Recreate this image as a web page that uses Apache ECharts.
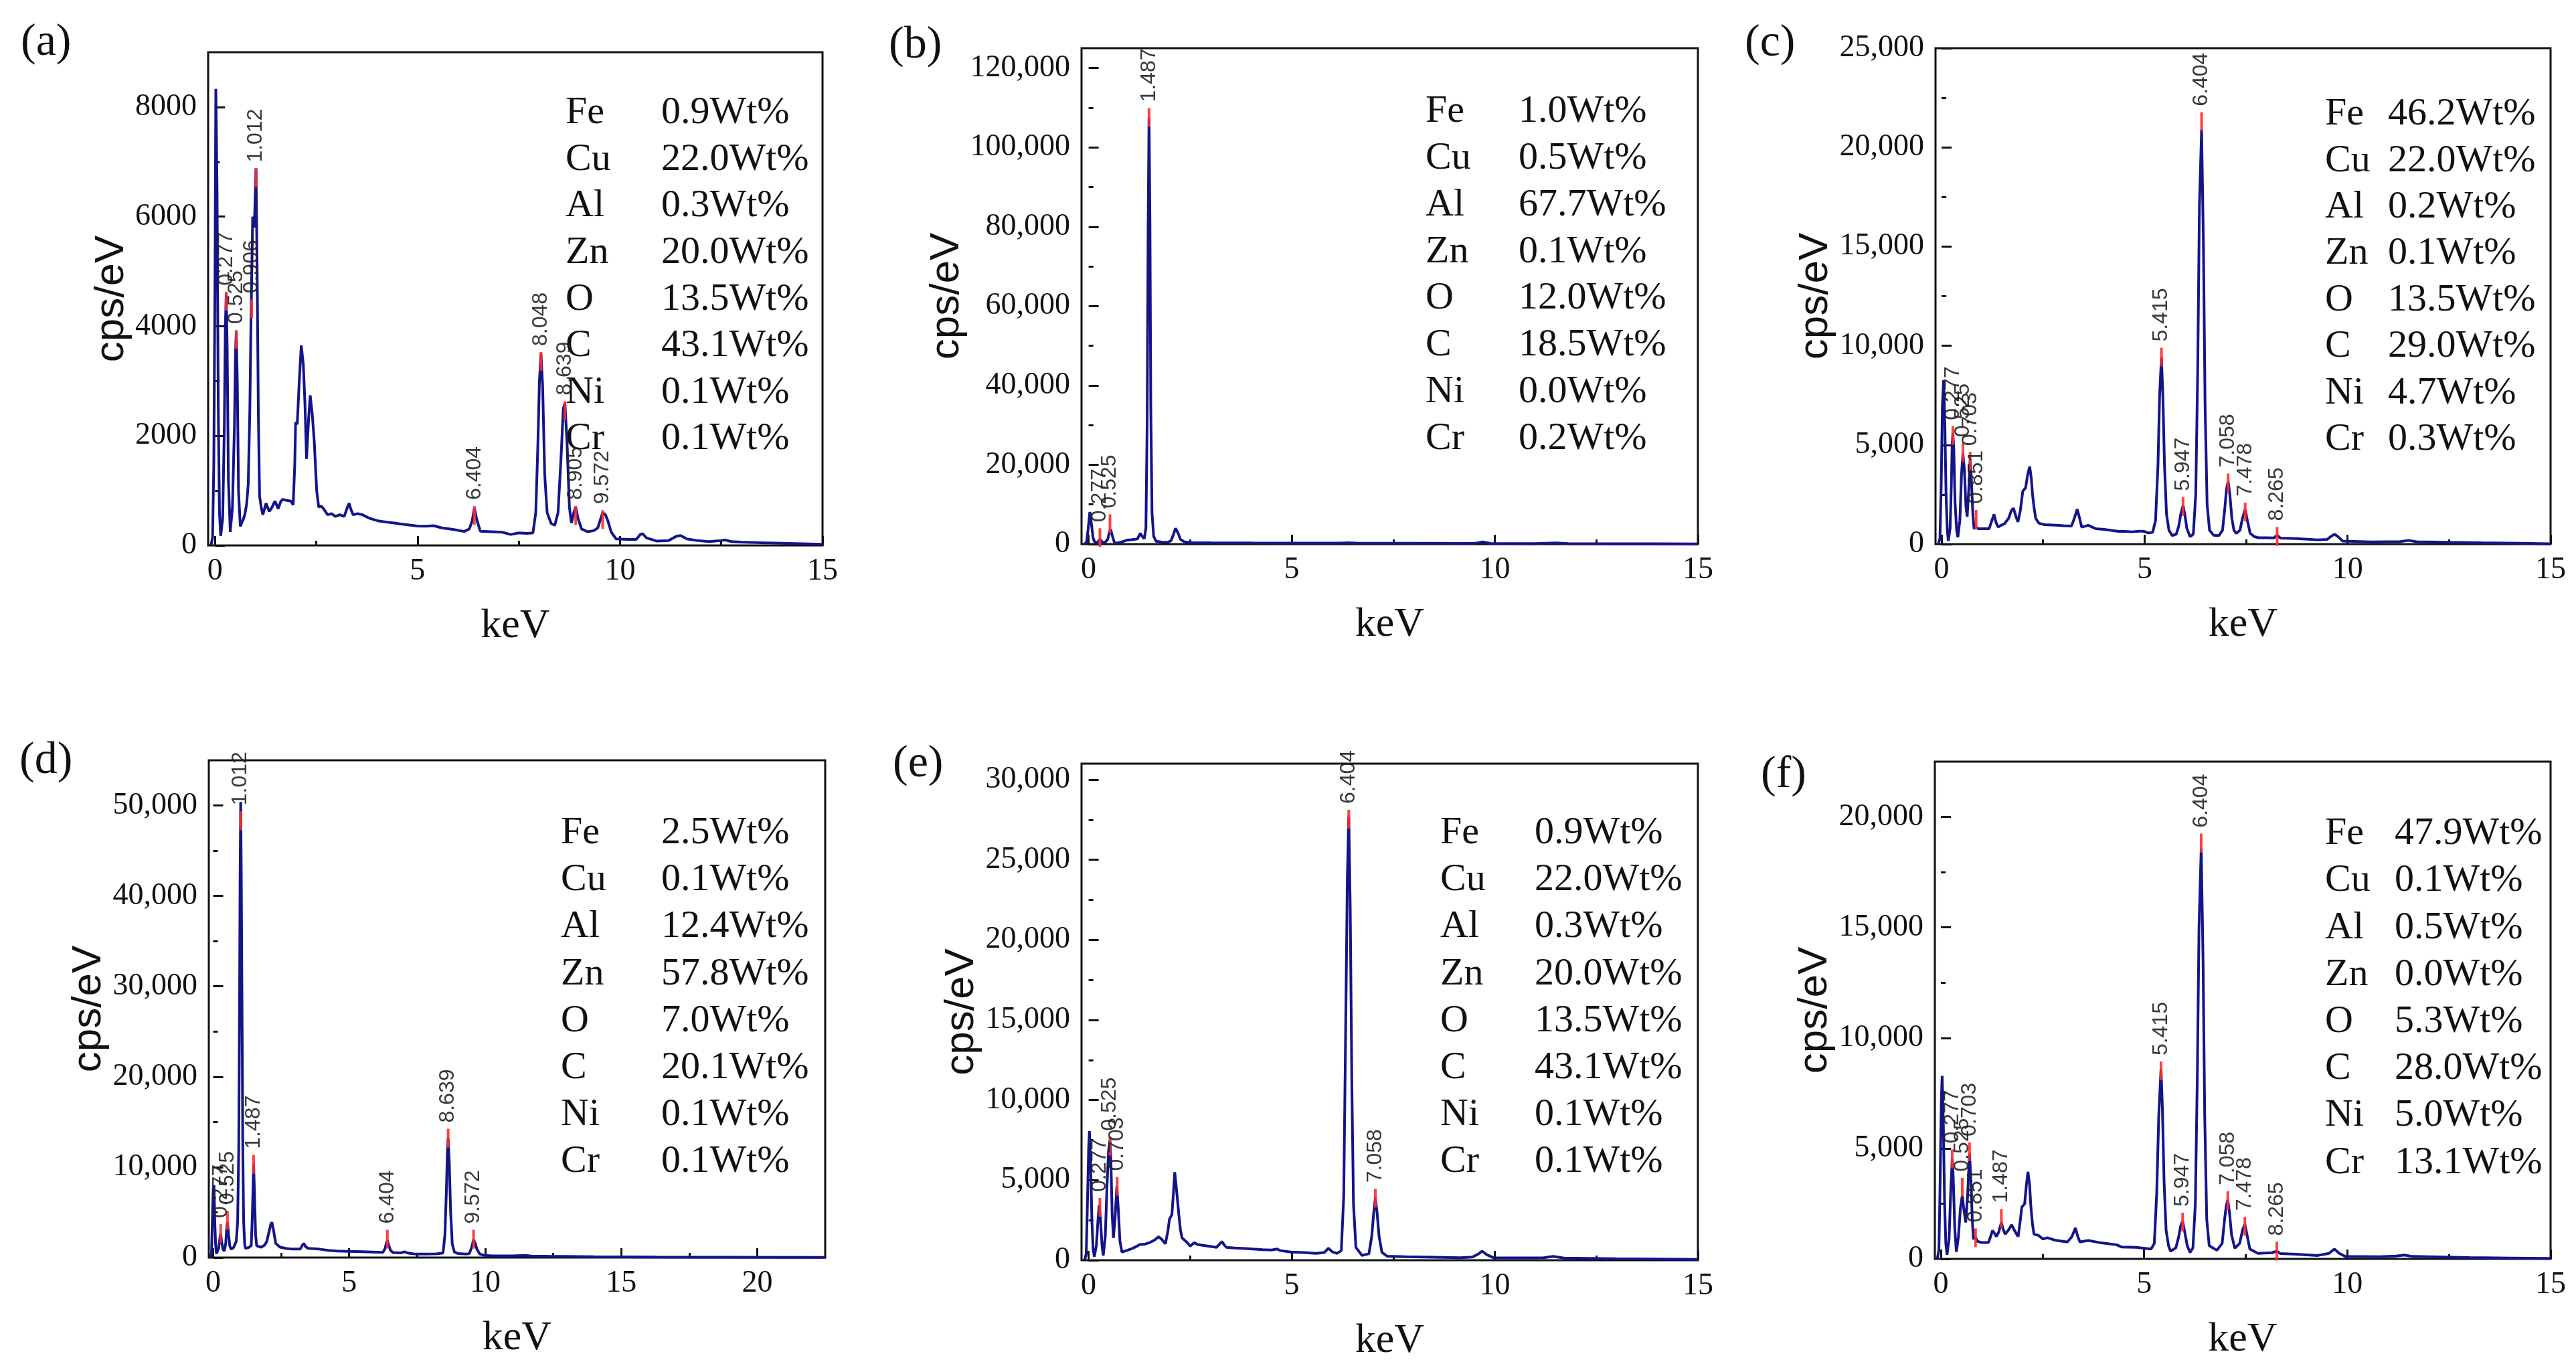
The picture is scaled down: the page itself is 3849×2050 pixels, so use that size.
<!DOCTYPE html>
<html><head><meta charset="utf-8">
<script src="https://cdn.jsdelivr.net/npm/echarts@6/dist/echarts.min.js"></script>
<style>html,body{margin:0;padding:0;background:#fff}#c{width:3849px;height:2050px}</style>
</head><body><div id="c"></div>
<script>
// ---------------- DATA ----------------
const panelLabels = ['(a)', '(b)', '(c)', '(d)', '(e)', '(f)'];
const elements = ['Fe', 'Cu', 'Al', 'Zn', 'O', 'C', 'Ni', 'Cr'];
const wtA = ['0.9', '22.0', '0.3', '20.0', '13.5', '43.1', '0.1', '0.1'];
const wtB = ['1.0', '0.5', '67.7', '0.1', '12.0', '18.5', '0.0', '0.2'];
const wtC = ['46.2', '22.0', '0.2', '0.1', '13.5', '29.0', '4.7', '0.3'];
const wtD = ['2.5', '0.1', '12.4', '57.8', '7.0', '20.1', '0.1', '0.1'];
const wtE = ['0.9', '22.0', '0.3', '20.0', '13.5', '43.1', '0.1', '0.1'];
const wtF = ['47.9', '0.1', '0.5', '0.0', '5.3', '28.0', '5.0', '13.1'];

const xTicks15 = [0, 5, 10, 15];
const xMinor15 = [2.5, 7.5, 12.5];
const xTicks22 = [0, 5, 10, 15, 20];
const xMinor22 = [2.5, 7.5, 12.5, 17.5];
const yTicksA = [0, 2000, 4000, 6000, 8000];
const yMinorA = [1000, 3000, 5000, 7000];
const yTicksB = [0, 20000, 40000, 60000, 80000, 100000, 120000];
const yMinorB = [10000, 30000, 50000, 70000, 90000, 110000];
const yTicksC = [0, 5000, 10000, 15000, 20000, 25000];
const yMinorC = [2500, 7500, 12500, 17500, 22500];
const yTicksD = [0, 10000, 20000, 30000, 40000, 50000];
const yMinorD = [5000, 15000, 25000, 35000, 45000];
const yTicksE = [0, 5000, 10000, 15000, 20000, 25000, 30000];
const yMinorE = [2500, 7500, 12500, 17500, 22500, 27500];
const yTicksF = [0, 5000, 10000, 15000, 20000];
const yMinorF = [2500, 7500, 12500, 17500];

// spectra [keV, cps/eV]
const specA = [[-0.10,0],[-0.06,150],[-0.03,1500],[0.0,5000],[0.02,8330],[0.05,6500],[0.08,2500],[0.11,600],[0.14,175],[0.19,500],[0.23,2200],[0.255,4000],[0.277,4600],[0.30,3600],[0.33,1200],[0.376,245],[0.43,700],[0.48,2200],[0.505,3500],[0.525,3900],[0.55,3000],[0.58,1000],[0.624,350],[0.70,480],[0.735,560],[0.78,750],[0.82,1120],[0.86,2500],[0.89,4200],[0.93,6000],[0.97,5800],[1.012,6880],[1.04,5000],[1.07,2400],[1.10,900],[1.14,700],[1.18,560],[1.26,770],[1.34,620],[1.41,700],[1.48,810],[1.56,670],[1.62,800],[1.67,840],[1.78,820],[1.87,810],[1.93,740],[1.97,1500],[1.99,2250],[2.03,2210],[2.08,3000],[2.13,3650],[2.18,3300],[2.22,2600],[2.26,1580],[2.31,2300],[2.35,2740],[2.40,2400],[2.45,1900],[2.51,1000],[2.56,700],[2.62,720],[2.67,680],[2.78,560],[2.88,580],[2.97,530],[3.08,560],[3.19,530],[3.26,680],[3.31,770],[3.36,650],[3.41,560],[3.52,580],[3.64,560],[3.8,500],[4.02,450],[4.3,420],[4.6,390],[5.0,354],[5.2,350],[5.4,360],[5.6,320],[5.9,290],[6.15,255],[6.28,300],[6.35,450],[6.404,680],[6.46,480],[6.55,260],[6.83,250],[7.1,240],[7.3,200],[7.5,230],[7.7,220],[7.85,230],[7.92,600],[7.97,1800],[8.01,3000],[8.048,3500],[8.09,2900],[8.14,1300],[8.2,600],[8.3,400],[8.39,370],[8.47,600],[8.55,1700],[8.60,2500],[8.639,2600],[8.69,1900],[8.75,700],[8.8,410],[8.86,600],[8.905,700],[8.96,500],[9.05,300],[9.2,250],[9.35,270],[9.45,320],[9.52,480],[9.572,600],[9.64,560],[9.7,450],[9.78,250],[9.9,120],[10.2,110],[10.4,110],[10.5,200],[10.56,214],[10.65,140],[10.9,80],[11.2,90],[11.4,170],[11.5,180],[11.65,120],[11.9,90],[12.2,70],[12.5,90],[12.6,100],[12.75,70],[13.0,60],[13.5,50],[14.0,40],[14.5,30],[15.0,20]];
const specB = [[-0.10,0],[-0.05,500],[-0.01,4000],[0.03,8100],[0.07,5000],[0.11,1500],[0.16,300],[0.22,500],[0.28,1200],[0.34,500],[0.40,400],[0.47,1200],[0.51,3000],[0.54,3800],[0.58,2200],[0.63,500],[0.67,200],[0.8,500],[0.94,1000],[1.05,1100],[1.2,1300],[1.27,2700],[1.33,1800],[1.37,1400],[1.41,4000],[1.44,30000],[1.465,80000],[1.487,107500],[1.51,80000],[1.53,35000],[1.56,8000],[1.6,2000],[1.66,700],[1.8,500],[1.95,450],[2.03,900],[2.08,2200],[2.14,4000],[2.2,2800],[2.26,1200],[2.35,600],[2.5,400],[3.0,350],[4.0,300],[5.0,270],[6.2,250],[6.4,350],[6.6,240],[8.0,200],[9.5,170],[9.7,550],[9.9,160],[11.0,130],[11.5,300],[11.8,120],[13.0,90],[14.0,70],[15.0,50]];
const specC = [[-0.08,0],[-0.04,300],[-0.01,3000],[0.02,7000],[0.05,8275],[0.08,6000],[0.11,2500],[0.14,700],[0.165,170],[0.21,800],[0.24,3000],[0.26,5000],[0.277,5600],[0.30,4800],[0.33,2200],[0.37,700],[0.40,345],[0.45,1200],[0.49,3500],[0.525,4570],[0.56,3800],[0.60,1900],[0.63,1380],[0.67,2800],[0.703,4220],[0.73,3400],[0.77,1500],[0.80,775],[0.851,860],[0.90,780],[1.0,775],[1.17,775],[1.24,1200],[1.29,1500],[1.34,1100],[1.39,860],[1.47,950],[1.55,1030],[1.65,1300],[1.72,1700],[1.77,1810],[1.83,1400],[1.88,1120],[1.94,1700],[2.0,2670],[2.07,2845],[2.12,3500],[2.17,3910],[2.21,3300],[2.24,2500],[2.28,1800],[2.32,1290],[2.4,1050],[2.54,980],[2.82,950],[3.0,930],[3.2,915],[3.27,1300],[3.34,1760],[3.4,1300],[3.45,860],[3.53,900],[3.61,950],[3.8,775],[4.0,740],[4.36,640],[4.44,650],[4.7,620],[4.85,650],[4.97,650],[5.1,560],[5.2,600],[5.27,1200],[5.33,4000],[5.37,7500],[5.415,9400],[5.45,7500],[5.49,4000],[5.54,1500],[5.6,700],[5.68,430],[5.78,500],[5.84,900],[5.89,1500],[5.947,1950],[5.99,1500],[6.04,800],[6.12,370],[6.2,500],[6.26,2500],[6.31,9000],[6.35,17000],[6.404,20900],[6.45,15000],[6.49,7000],[6.54,2000],[6.6,700],[6.7,450],[6.83,430],[6.92,700],[6.98,1900],[7.02,2800],[7.058,3150],[7.1,2500],[7.15,1300],[7.2,700],[7.26,540],[7.35,700],[7.41,1300],[7.478,1750],[7.53,1200],[7.6,550],[7.7,380],[7.8,320],[8.0,320],[8.18,310],[8.265,440],[8.35,300],[8.74,280],[9.27,215],[9.5,240],[9.6,400],[9.68,500],[9.78,350],[9.88,150],[10.6,110],[11.3,130],[11.5,190],[11.7,120],[12.5,90],[13.3,65],[14.2,40],[15.0,20]];
const specD = [[-0.10,0],[-0.06,500],[-0.03,4000],[0.0,7500],[0.03,8000],[0.06,4000],[0.09,1500],[0.12,425],[0.2,1000],[0.25,2200],[0.277,2630],[0.31,1800],[0.36,900],[0.41,720],[0.46,1500],[0.5,3300],[0.525,3900],[0.56,2800],[0.61,1300],[0.66,930],[0.75,1100],[0.85,1800],[0.9,4000],[0.94,12000],[0.97,28000],[0.99,42000],[1.012,50400],[1.03,44000],[1.06,28000],[1.09,12000],[1.12,4000],[1.16,1400],[1.19,1020],[1.3,1100],[1.4,1300],[1.44,4500],[1.487,10300],[1.52,7000],[1.56,2500],[1.6,1300],[1.7,1200],[1.77,1150],[1.9,1400],[1.97,1780],[2.05,2800],[2.12,3700],[2.16,3900],[2.22,3000],[2.3,1570],[2.46,1150],[2.7,1000],[2.91,935],[3.2,950],[3.27,1300],[3.33,1570],[3.4,1200],[3.49,1020],[3.9,935],[4.23,800],[4.56,720],[5.0,680],[5.5,640],[6.0,600],[6.24,566],[6.32,1000],[6.36,1500],[6.404,1900],[6.45,1400],[6.52,800],[6.6,560],[6.9,520],[7.04,640],[7.15,500],[7.44,380],[7.8,380],[8.2,400],[8.45,500],[8.52,2500],[8.57,7000],[8.61,11500],[8.639,13200],[8.68,10500],[8.73,5000],[8.79,1500],[8.87,600],[9.0,450],[9.3,380],[9.42,450],[9.5,1100],[9.572,1980],[9.63,1600],[9.7,900],[9.8,400],[9.95,250],[10.26,190],[11.0,180],[11.3,220],[11.47,240],[11.7,170],[12.3,140],[14.0,90],[16.3,50],[19.0,30],[22.5,20]];
const specE = [[-0.10,0],[-0.06,400],[-0.03,3500],[0.0,7000],[0.02,8060],[0.05,6000],[0.08,2500],[0.11,700],[0.14,220],[0.19,900],[0.23,2500],[0.26,3445],[0.29,2600],[0.33,900],[0.36,293],[0.41,1500],[0.45,4500],[0.49,6800],[0.525,7500],[0.55,6000],[0.58,2800],[0.61,1390],[0.65,2600],[0.695,4620],[0.73,3200],[0.77,1200],[0.82,510],[0.95,620],[1.07,730],[1.17,850],[1.26,980],[1.38,1000],[1.5,1100],[1.62,1250],[1.72,1466],[1.8,1300],[1.89,1026],[1.95,1800],[1.99,2565],[2.05,2860],[2.09,4300],[2.12,5500],[2.16,4500],[2.22,2860],[2.26,1900],[2.3,1390],[2.43,1100],[2.5,880],[2.6,1100],[2.68,980],[2.76,950],[2.95,880],[3.15,806],[3.22,1000],[3.28,1170],[3.34,950],[3.39,806],[3.6,760],[3.86,730],[4.29,660],[4.5,640],[4.64,700],[4.72,600],[4.98,510],[5.3,480],[5.59,430],[5.8,480],[5.9,750],[6.0,520],[6.12,430],[6.22,600],[6.28,4000],[6.33,15000],[6.37,24000],[6.404,27700],[6.44,22000],[6.48,11000],[6.52,3500],[6.58,800],[6.73,300],[6.9,400],[6.97,1500],[7.02,3000],[7.058,3900],[7.1,3000],[7.15,1500],[7.22,500],[7.35,250],[7.8,215],[8.5,190],[9.15,160],[9.45,200],[9.6,400],[9.69,565],[9.8,350],[9.96,160],[10.5,150],[11.2,160],[11.44,240],[11.7,140],[13.0,90],[14.0,70],[15.0,50]];
const specF = [[-0.09,0],[-0.05,400],[-0.02,3500],[0.01,7200],[0.03,8280],[0.06,6000],[0.09,2500],[0.12,700],[0.15,190],[0.2,900],[0.24,3000],[0.277,4520],[0.3,3800],[0.34,1400],[0.38,320],[0.43,1000],[0.48,2300],[0.525,2870],[0.56,2300],[0.61,1650],[0.66,3000],[0.703,4790],[0.74,3500],[0.77,1800],[0.8,900],[0.851,960],[0.9,800],[0.98,745],[1.17,745],[1.22,1000],[1.27,1280],[1.32,1150],[1.36,1010],[1.42,1200],[1.487,1650],[1.53,1350],[1.58,1117],[1.66,1300],[1.74,1540],[1.82,1250],[1.9,1010],[1.95,1700],[1.99,2340],[2.06,2500],[2.1,3300],[2.14,3940],[2.18,3400],[2.21,2450],[2.25,1600],[2.29,1117],[2.4,1064],[2.51,900],[2.62,960],[2.8,850],[3.11,766],[3.22,1000],[3.31,1400],[3.37,1000],[3.42,766],[3.52,800],[3.63,830],[3.88,745],[4.32,640],[4.44,540],[4.8,520],[5.17,445],[5.25,700],[5.31,3000],[5.36,6500],[5.415,8580],[5.45,6800],[5.49,3500],[5.54,1300],[5.6,600],[5.65,350],[5.78,500],[5.85,1000],[5.9,1500],[5.947,1700],[6.0,1200],[6.06,600],[6.13,290],[6.2,500],[6.26,2500],[6.31,8500],[6.35,15000],[6.404,18570],[6.45,13500],[6.49,6500],[6.54,1800],[6.6,600],[6.79,390],[6.92,700],[6.98,1800],[7.02,2400],[7.058,2670],[7.1,2100],[7.15,1100],[7.23,485],[7.35,700],[7.42,1300],[7.478,1570],[7.53,1100],[7.6,450],[7.8,250],[8.15,280],[8.265,350],[8.35,240],[8.74,215],[9.27,155],[9.55,250],[9.68,445],[9.8,250],[9.95,115],[10.8,100],[11.2,130],[11.4,175],[11.6,110],[13.0,60],[14.0,40],[15.0,20]];

// identified peaks: energies (keV) and height of the red marker top (cps/eV)
const peaksA = [0.277, 0.525, 0.906, 1.012, 6.404, 8.048, 8.639, 8.905, 9.572];
const markA  = [4630, 3930, 4490, 6880, 720, 3530, 2630, 720, 645];
const peaksB = [0.277, 0.525, 1.487];
const markB  = [4000, 7500, 109900];
const peaksC = [0.277, 0.525, 0.703, 0.851, 5.415, 5.947, 6.404, 7.058, 7.478, 8.265];
const markC  = [5950, 5090, 4650, 1720, 9900, 2370, 21770, 3560, 2090, 860];
const peaksD = [0.277, 0.525, 1.012, 1.487, 6.404, 8.639, 9.572];
const markD  = [3700, 5180, 49360, 11340, 3070, 14245, 3070];
const peaksE = [0.277, 0.525, 0.703, 6.404, 7.058];
const markE  = [3885, 7700, 5200, 28120, 4460];
const peaksF = [0.277, 0.525, 0.703, 0.851, 1.487, 5.415, 5.947, 6.404, 7.058, 7.478, 8.265];
const markF  = [4950, 3670, 5270, 1380, 2255, 8930, 2090, 19240, 3060, 1900, 775];

// ---------------- LAYOUT ----------------
const panels = [
  {grid:[311,78,918,737],  xr:[-0.17,15],  yr:[0,9000],   xt:xTicks15, xm:xMinor15, yt:yTicksA, ym:yMinorA, spec:specA, pk:peaksA, mk:markA, wt:wtA, comma:false, ngap:104, lab:[31,64],    leg:[845,988,169,69.6]},
  {grid:[1616,72,921,741], xr:[-0.175,15], yr:[0,125000], xt:xTicks15, xm:xMinor15, yt:yTicksB, ym:yMinorB, spec:specB, pk:peaksB, mk:markB, wt:wtB, comma:true,  ngap:168, lab:[1328,68],  leg:[2130,2269,167,69.8]},
  {grid:[2892,72,919,741], xr:[-0.15,15],  yr:[0,25000],  xt:xTicks15, xm:xMinor15, yt:yTicksC, ym:yMinorC, spec:specC, pk:peaksC, mk:markC, wt:wtC, comma:true,  ngap:148, lab:[2607,65],  leg:[3474,3568,171,69.4]},
  {grid:[312,1136,921,743],xr:[-0.16,22.5],yr:[0,55000],  xt:xTicks22, xm:xMinor22, yt:yTicksD, ym:yMinorD, spec:specD, pk:peaksD, mk:markD, wt:wtD, comma:true,  ngap:148, lab:[29,1137],  leg:[838,988,1245,70.1]},
  {grid:[1616,1141,921,742],xr:[-0.175,15],yr:[0,31000],  xt:xTicks15, xm:xMinor15, yt:yTicksE, ym:yMinorE, spec:specE, pk:peaksE, mk:markE, wt:wtE, comma:true,  ngap:148, lab:[1334,1142],leg:[2152,2293,1245,70.1]},
  {grid:[2891,1138,920,743],xr:[-0.15,15], yr:[0,22500],  xt:xTicks15, xm:xMinor15, yt:yTicksF, ym:yMinorF, spec:specF, pk:peaksF, mk:markF, wt:wtF, comma:true,  ngap:148, lab:[2631,1158],leg:[3474,3578,1246,70.2]}
];

const SERIF = 'Liberation Serif';
const SANS = 'Liberation Sans';
const fmtComma = v => String(v).replace(/\B(?=(\d{3})+(?!\d))/g, ',');

const grids = [], xAxes = [], yAxes = [], series = [], graphics = [];
panels.forEach((p, i) => {
  grids.push({left:p.grid[0], top:p.grid[1], width:p.grid[2], height:p.grid[3], show:true, borderColor:'#111', borderWidth:3, backgroundColor:'transparent'});
  xAxes.push({gridIndex:i, type:'value', position:'bottom', min:p.xr[0], max:p.xr[1],
    axisLine:{show:false}, splitLine:{show:false},
    axisTick:{show:true, inside:true, length:14, lineStyle:{color:'#111', width:3}, customValues:p.xt},
    axisLabel:{show:true, customValues:p.xt, fontSize:46, fontFamily:SERIF, color:'#111', margin:16},
    name:'keV', nameLocation:'middle', nameGap:90, nameTextStyle:{fontSize:62, fontFamily:SERIF, color:'#111'}});
  xAxes.push({gridIndex:i, type:'value', position:'bottom', min:p.xr[0], max:p.xr[1],
    axisLine:{show:false}, splitLine:{show:false},
    axisTick:{show:true, inside:true, length:7, lineStyle:{color:'#111', width:3}, customValues:p.xm},
    axisLabel:{show:false}});
  yAxes.push({gridIndex:i, type:'value', position:'left', min:p.yr[0], max:p.yr[1],
    axisLine:{show:false}, splitLine:{show:false},
    axisTick:{show:true, inside:true, length:15, lineStyle:{color:'#111', width:3}, customValues:p.yt},
    axisLabel:{show:true, customValues:p.yt, fontSize:46, fontFamily:SERIF, color:'#111', margin:17,
      formatter: p.comma ? (v => fmtComma(v)) : (v => String(v))},
    name:'cps/eV', nameLocation:'middle', nameRotate:90, nameGap:p.ngap, nameTextStyle:{fontSize:62, fontFamily:SANS, color:'#111'}});
  yAxes.push({gridIndex:i, type:'value', position:'left', min:p.yr[0], max:p.yr[1],
    axisLine:{show:false}, splitLine:{show:false},
    axisTick:{show:true, inside:true, length:7, lineStyle:{color:'#111', width:3}, customValues:p.ym},
    axisLabel:{show:false}});

  series.push({type:'line', xAxisIndex:2*i, yAxisIndex:2*i, data:p.spec, showSymbol:false, symbol:'none',
    lineStyle:{color:'#14148a', width:4}, z:2, silent:true, animation:false});
  series.push({type:'scatter', xAxisIndex:2*i, yAxisIndex:2*i, data:p.pk.map((e, k) => [e, p.mk[k]]),
    symbol:'rect', symbolSize:[4, 28], symbolOffset:[0, 14], itemStyle:{color:'#ff2b2b', opacity:0.9}, z:3, silent:true, animation:false,
    label:{show:true, position:'top', distance:9, rotate:90, align:'left', verticalAlign:'middle',
      fontSize:32, fontFamily:SANS, color:'#222', formatter: q => q.value[0].toFixed(3)}});

  graphics.push({type:'text', x:p.lab[0], y:p.lab[1], style:{text:panelLabels[i], fontSize:68, fontFamily:SERIF, fill:'#111', align:'left', verticalAlign:'middle'}});
  elements.forEach((el, k) => {
    const yy = p.leg[2] + k * p.leg[3];
    graphics.push({type:'text', x:p.leg[0], y:yy, style:{text:el, fontSize:58, fontFamily:SERIF, fill:'#111', align:'left', verticalAlign:'middle'}});
    graphics.push({type:'text', x:p.leg[1], y:yy, style:{text:p.wt[k] + 'Wt%', fontSize:58, fontFamily:SERIF, fill:'#111', align:'left', verticalAlign:'middle'}});
  });
});

const chart = echarts.init(document.getElementById('c'), null, {renderer:'canvas'});
chart.setOption({animation:false, backgroundColor:'#fff', grid:grids, xAxis:xAxes, yAxis:yAxes, series:series, graphic:graphics});
</script></body></html>
